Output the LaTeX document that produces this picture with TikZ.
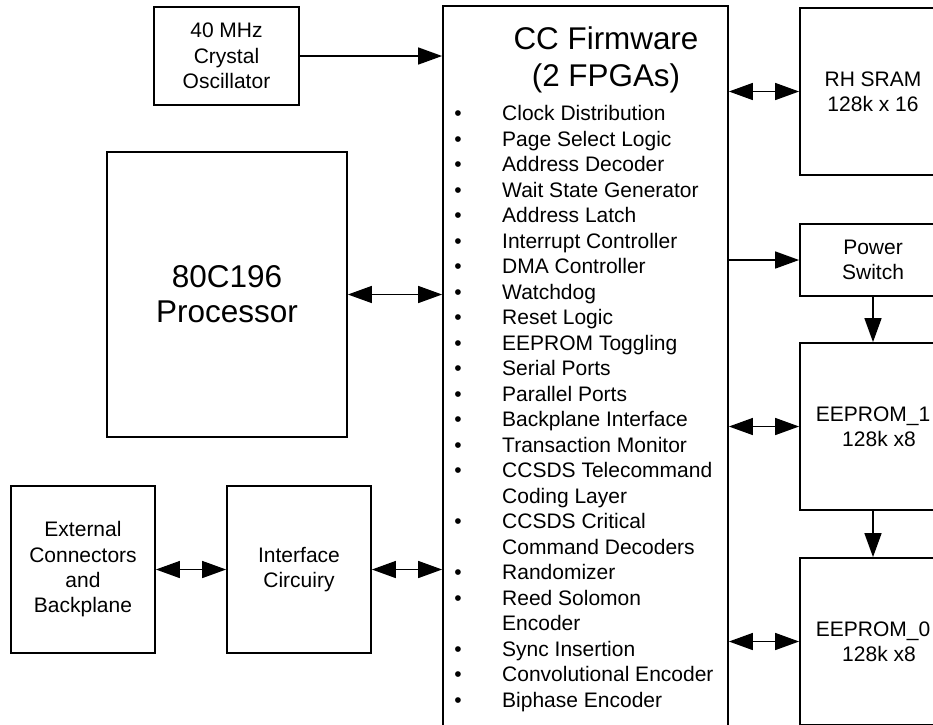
\documentclass[tikz,border=0pt]{standalone}
\usepackage{fontspec}
\setmainfont{Liberation Sans}
\usetikzlibrary{arrows.meta}
\begin{document}
\begin{tikzpicture}[x=1pt,y=-1pt,
    box/.style={draw,line width=1.8pt,inner sep=0pt,align=center,
      font=\fontsize{21}{25.3}\selectfont},
    entry/.style={inner sep=0pt,font=\fontsize{21}{25.3}\selectfont},
    link/.style={line width=1.5pt,>={Triangle[length=24pt,width=17pt]}}]
  \useasboundingbox (0,0) rectangle (933,724);
  \clip (0,0) rectangle (933,724);
  \node[box,minimum width=145pt,minimum height=98pt] (osc) at (226.5,56) {40 MHz\\Crystal\\Oscillator};
  \node[box,minimum width=240pt,minimum height=285pt,font=\fontsize{31.5}{35}\selectfont] (cpu) at (227,294.5) {80C196\\Processor};
  \node[box,minimum width=144pt,minimum height=167pt] (ext) at (83,569.5) {External\\Connectors\\and\\Backplane};
  \node[box,minimum width=144pt,minimum height=167pt] (intf) at (299,569.5) {Interface\\Circuiry};
  \node[box,minimum width=285pt,minimum height=760pt] (cc) at (585.5,386) {};
  \node[box,minimum width=146pt,minimum height=167pt] (sram) at (873,91.5) {RH SRAM\\128k x 16};
  \node[box,minimum width=146pt,minimum height=72pt] (psw) at (873,260) {Power\\Switch};
  \node[box,minimum width=146pt,minimum height=167pt] (ee1) at (873,426.5) {EEPROM\_1\\\hspace*{12pt}128k x8};
  \node[box,minimum width=146pt,minimum height=167pt] (ee0) at (873,641.5) {EEPROM\_0\\\hspace*{12pt}128k x8};
  \node[align=center,inner sep=0pt,font=\fontsize{31.4}{37.7}\selectfont] (title) at (606,60) {CC Firmware\\(2 FPGAs)};
  \foreach \b/\txt [count=\i from 0] in {
      1/Clock Distribution, 1/Page Select Logic, 1/Address Decoder,
      1/Wait State Generator, 1/Address Latch, 1/Interrupt Controller,
      1/DMA Controller, 1/Watchdog, 1/Reset Logic, 1/EEPROM Toggling,
      1/Serial Ports, 1/Parallel Ports, 1/Backplane Interface,
      1/Transaction Monitor, 1/CCSDS Telecommand, 0/Coding Layer,
      1/CCSDS Critical, 0/Command Decoders, 1/Randomizer, 1/Reed Solomon,
      0/Encoder, 1/Sync Insertion, 1/Convolutional Encoder, 1/Biphase Encoder} {
    \node[entry,anchor=base west] (item\i) at (502,120.5+25.5*\i) {\txt};
    \ifnum\b=1
      \node[entry,anchor=base] (dot\i) at (458,120.5+25.5*\i) {\textbullet};
    \fi
  }
  \begin{scope}[link]
    \draw[->] (osc.east) to (osc.east -| cc.west);
    \draw[<->] (cpu.east) to (cpu.east -| cc.west);
    \draw[<->] (ext.east) to (intf.west);
    \draw[<->] (intf.east) to (intf.east -| cc.west);
    \draw[<->] (cc.east |- sram.west) to (sram.west);
    \draw[->] (cc.east |- psw.west) to (psw.west);
    \draw[<->] (cc.east |- ee1.west) to (ee1.west);
    \draw[<->] (cc.east |- ee0.west) to (ee0.west);
    \draw[->] (psw.south) to (ee1.north);
    \draw[->] (ee1.south) to (ee0.north);
  \end{scope}
\end{tikzpicture}
\end{document}
